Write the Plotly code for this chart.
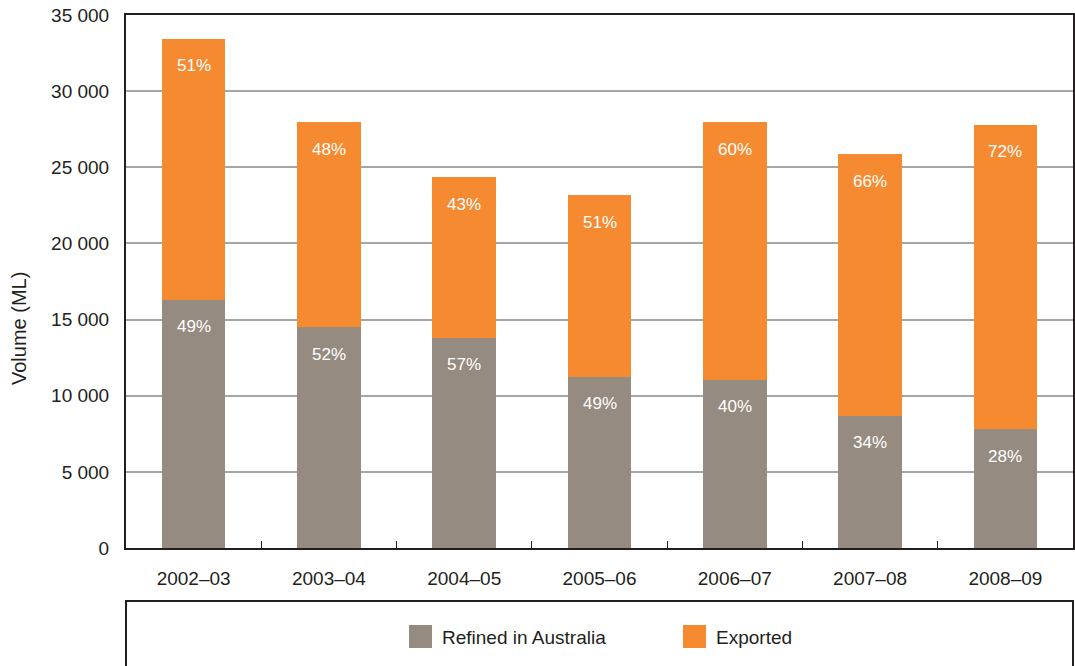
import plotly.graph_objects as go

# ---- data ----
years = ["2002\u201303", "2003\u201304", "2004\u201305", "2005\u201306",
         "2006\u201307", "2007\u201308", "2008\u201309"]
refined = [16300, 14500, 13800, 11250, 11050, 8700, 7800]
exported = [17150, 13450, 10550, 11900, 16900, 17150, 20000]
refined_pct = ["49%", "52%", "57%", "49%", "40%", "34%", "28%"]
exported_pct = ["51%", "48%", "43%", "51%", "60%", "66%", "72%"]
series_names = ["Refined in Australia", "Exported"]
y_ticks = [0, 5000, 10000, 15000, 20000, 25000, 30000, 35000]
y_tick_text = ["0", "5\u00a0000", "10\u00a0000", "15\u00a0000", "20\u00a0000",
               "25\u00a0000", "30\u00a0000", "35\u00a0000"]

GREY = "#968b80"
ORANGE = "#f58a31"
DARK = "#231f20"
FONT = "Liberation Sans, Arial, sans-serif"

# plot box in figure pixels (page body margin is removed below)
PL, PT, PR, PB = 126, 15, 1073, 548
W, H = 1075, 666

fig = go.Figure()
fig.add_trace(go.Bar(x=years, y=refined, name=series_names[0],
                     marker=dict(color=GREY, line=dict(width=0)),
                     width=0.47, showlegend=False))
fig.add_trace(go.Bar(x=years, y=exported, name=series_names[1],
                     marker=dict(color=ORANGE, line=dict(width=0)),
                     width=0.47, showlegend=False))

annotations = []
for i, yr in enumerate(years):
    total = refined[i] + exported[i]
    annotations.append(dict(x=yr, y=refined[i], xref="x", yref="y",
                            text=refined_pct[i], showarrow=False,
                            yanchor="middle", yshift=-27,
                            font=dict(family=FONT, size=17, color="white")))
    annotations.append(dict(x=yr, y=total, xref="x", yref="y",
                            text=exported_pct[i], showarrow=False,
                            yanchor="middle", yshift=-27,
                            font=dict(family=FONT, size=17, color="white")))


def px_x(px):
    return (px - PL) / float(PR - PL)


def px_y(py):
    return (PB - py) / float(PB - PT)


# y axis title
annotations.append(dict(x=px_x(19), y=px_y(329), xref="paper", yref="paper",
                        text="Volume (ML)", textangle=-90,
                        showarrow=False, xanchor="center", yanchor="middle",
                        font=dict(family=FONT, size=20, color=DARK)))

# legend (drawn inside a full-width box below the plot)
shapes = [
    dict(type="rect", xref="paper", yref="paper",
         x0=0, x1=1, y0=px_y(601), y1=px_y(690),
         line=dict(color=DARK, width=2), fillcolor="white", layer="above"),
    dict(type="rect", xref="paper", yref="paper",
         x0=px_x(409), x1=px_x(432), y0=px_y(648), y1=px_y(625),
         line=dict(width=0), fillcolor=GREY, layer="above"),
    dict(type="rect", xref="paper", yref="paper",
         x0=px_x(683), x1=px_x(706), y0=px_y(648), y1=px_y(625),
         line=dict(width=0), fillcolor=ORANGE, layer="above"),
]
annotations.append(dict(x=px_x(440), y=px_y(637), xref="paper", yref="paper",
                        text=series_names[0], showarrow=False,
                        xanchor="left", yanchor="middle",
                        font=dict(family=FONT, size=19, color=DARK)))
annotations.append(dict(x=px_x(714), y=px_y(637), xref="paper", yref="paper",
                        text=series_names[1], showarrow=False,
                        xanchor="left", yanchor="middle",
                        font=dict(family=FONT, size=19, color=DARK)))

fig.update_layout(
    width=W, height=H,
    margin=dict(l=PL, r=W - PR, t=PT, b=H - PB, pad=0, autoexpand=False),
    barmode="stack",
    plot_bgcolor="white", paper_bgcolor="white",
    font=dict(family=FONT, size=19, color=DARK),
    annotations=annotations,
    shapes=shapes,
    showlegend=False,
)
fig.update_xaxes(
    type="category",
    automargin=False,
    showline=True, linecolor=DARK, linewidth=2, mirror=True,
    ticks="inside", tickson="boundaries", ticklen=7, tickcolor=DARK, tickwidth=1,
    showgrid=False,
    tickfont=dict(family=FONT, size=19, color=DARK),
    ticklabelstandoff=12,
)
fig.update_yaxes(
    range=[0, 35000],
    automargin=False,
    tickvals=y_ticks, ticktext=y_tick_text,
    showline=True, linecolor=DARK, linewidth=2, mirror=True,
    showgrid=True, gridcolor="#a6a6a6", gridwidth=1.5,
    zeroline=False,
    ticks="",
    tickfont=dict(family=FONT, size=19, color=DARK),
    ticklabelstandoff=11,
    ticklabeloverflow="allow",
)

fig.write_html("out.html",
               config={"displayModeBar": False},
               post_script="document.body.style.margin='0';"
                           "document.body.style.overflow='hidden';")
